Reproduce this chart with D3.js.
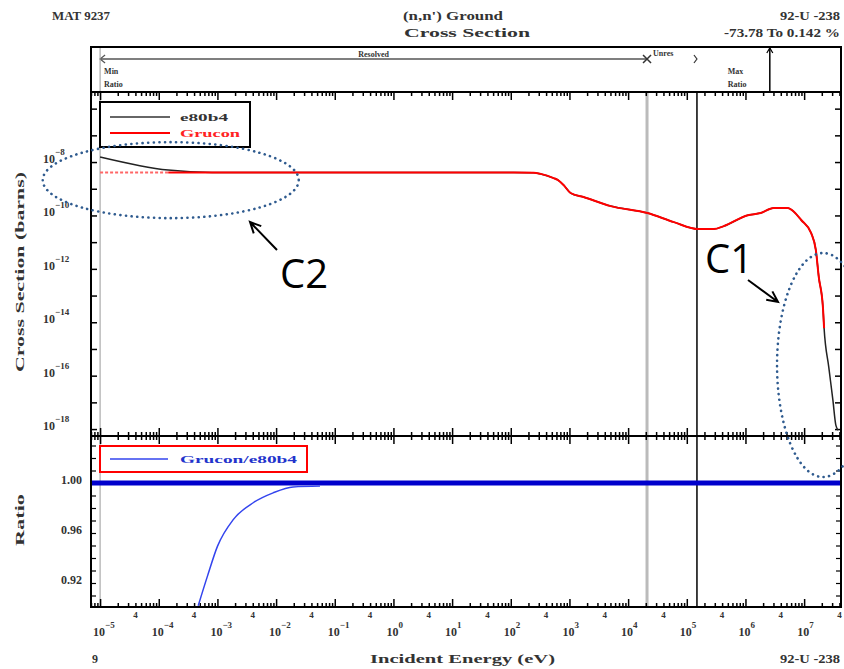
<!DOCTYPE html>
<html>
<head>
<meta charset="utf-8">
<script src="https://cdn.jsdelivr.net/npm/d3@7"></script>
<style>
  body { margin: 0; background: #fff; }
  text { font-family: "Liberation Serif", "DejaVu Serif", serif; font-weight: bold; fill: #333; }
  .note { font-family: "Open Sans", "Liberation Sans", sans-serif; font-weight: normal; fill: #000; }
</style>
</head>
<body>
<script>
// ---- data ----
// Grucon cross section (barns) vs incident energy (eV)
var grEnergy = [1e-5, 1.45e-4, 112, 245, 324, 537, 631, 794, 1047, 1738, 5012, 21380, 60260,
                158500, 288400, 426600, 1.096e6, 1.82e6, 3.02e6, 5.25e6, 6.76e6, 8.91e6,
                1.318e7, 1.585e7, 1.778e7, 2.089e7, 2.188e7];
var grSigma = [4.1e-9, 4.1e-9, 4.1e-9, 4.0e-9, 3.6e-9, 2.51e-9, 2.14e-9, 1.38e-9, 6.92e-10, 4.9e-10,
               2.24e-10, 1.23e-10, 5.62e-11, 3.09e-11, 3.09e-11, 3.98e-11, 1.02e-10, 1.23e-10,
               1.91e-10, 1.91e-10, 1.35e-10, 6.76e-11, 2.19e-11, 5.01e-12, 4.9e-13, 3.72e-14, 6.03e-15];

// e80b4 cross section: differs at low energy and continues to the end of the range
var ebEnergy = [1e-5, 1.45e-4, 8.1e-4, 112, 245, 324, 537, 631, 794, 1047, 1738, 5012, 21380, 60260,
                158500, 288400, 426600, 1.096e6, 1.82e6, 3.02e6, 5.25e6, 6.76e6, 8.91e6,
                1.318e7, 1.585e7, 1.778e7, 2.089e7, 2.188e7, 2.63e7, 3.09e7, 3.47e7, 3.8e7];
var ebSigma = [1.55e-8, 5.0e-9, 4.1e-9, 4.1e-9, 4.0e-9, 3.6e-9, 2.51e-9, 2.14e-9, 1.38e-9, 6.92e-10, 4.9e-10,
               2.24e-10, 1.23e-10, 5.62e-11, 3.09e-11, 3.09e-11, 3.98e-11, 1.02e-10, 1.23e-10,
               1.91e-10, 1.91e-10, 1.35e-10, 6.76e-11, 2.19e-11, 5.01e-12, 4.9e-13, 3.72e-14, 6.03e-15,
               2.09e-16, 1.23e-17, 1.41e-18, 9.12e-19];

// ratio Grucon / e80b4
var ratioEnergy = [4.7e-4, 6.76e-4, 1e-3, 1.86e-3, 4.07e-3, 8.9e-3, 1.95e-2, 5.6e-2];
var ratioValue = [0.9018, 0.9255, 0.9493, 0.9707, 0.9842, 0.9921, 0.9968, 0.9975];
var ratioRef = 1.0;

// tick labels
var xDecades = [-5, -4, -3, -2, -1, 0, 1, 2, 3, 4, 5, 6, 7];
var yDecades = [-8, -10, -12, -14, -16, -18];
var ratioLabels = [1.00, 0.96, 0.92];

// energy markers
var minRatioE = 1e-5, resolvedEnd = 2.1e4, unresolvedEnd = 1.49e5, maxRatioE = 2.6e6;

// ---- layout ----
var left = 91, right = 841, bandTop = 47, mainTop = 92, mainBottom = 436, ratioBottom = 607;

var svg = d3.select("body").append("svg")
    .attr("width", 844)
    .attr("height", 669);

var x = d3.scaleLog().domain([7.0e-6, 4.25e7]).range([left, right]);
var yMain = d3.scaleLog().domain([5.5e-19, 4.2e-6]).range([mainBottom, mainTop]);
var yRatio = d3.scaleLinear().domain([0.9008, 1.0376]).range([ratioBottom, mainBottom]);

// clip paths
var defs = svg.append("defs");
defs.append("clipPath").attr("id", "clipMain").append("rect")
    .attr("x", left).attr("y", mainTop).attr("width", right - left).attr("height", mainBottom - mainTop);
defs.append("clipPath").attr("id", "clipRatio").append("rect")
    .attr("x", left).attr("y", mainBottom).attr("width", right - left).attr("height", ratioBottom - mainBottom);

// header texts
function label(txt, px, py, len, anchor, size) {
    var t = svg.append("text").attr("x", px).attr("y", py)
        .attr("text-anchor", anchor || "start")
        .style("font-size", (size || 12) + "px")
        .text(txt);
    if (len) t.attr("textLength", len).attr("lengthAdjust", "spacingAndGlyphs");
    return t;
}
label("MAT 9237", 52, 20, 58);
label("(n,n') Ground", 403, 20, 100);
label("Cross Section", 404, 37, 126);
label("92-U -238", 840, 20, 60, "end");
label("-73.78 To 0.142 %", 840, 37, 116, "end");
label("9", 92, 663);
label("Incident Energy (eV)", 370, 663, 185);
label("92-U -238", 840, 663, 60, "end");

// axis titles
svg.append("text")
    .attr("transform", "translate(24,272) rotate(-90)")
    .attr("text-anchor", "middle")
    .attr("textLength", 200).attr("lengthAdjust", "spacingAndGlyphs")
    .style("font-size", "12px")
    .text("Cross Section (barns)");
svg.append("text")
    .attr("transform", "translate(24,520) rotate(-90)")
    .attr("text-anchor", "middle")
    .attr("textLength", 52).attr("lengthAdjust", "spacingAndGlyphs")
    .style("font-size", "12px")
    .text("Ratio");

// ---- energy range band ----
var band = svg.append("g");
var yr = 59;
band.append("line")
    .attr("x1", x(minRatioE)).attr("x2", x(resolvedEnd)).attr("y1", yr).attr("y2", yr)
    .style("stroke", "#555").style("stroke-width", 1.5);
band.append("path")
    .attr("d", "M" + (x(minRatioE) + 5) + "," + (yr - 4) + "L" + x(minRatioE) + "," + yr + "L" + (x(minRatioE) + 5) + "," + (yr + 4))
    .style("fill", "none").style("stroke", "#555").style("stroke-width", 1.2);
band.append("path")
    .attr("d", "M" + (x(resolvedEnd) - 4) + "," + (yr - 4) + "L" + (x(resolvedEnd) + 4) + "," + (yr + 4) +
        "M" + (x(resolvedEnd) - 4) + "," + (yr + 4) + "L" + (x(resolvedEnd) + 4) + "," + (yr - 4))
    .style("fill", "none").style("stroke", "#333").style("stroke-width", 1.5);
band.append("text")
    .attr("x", Math.sqrt(x(minRatioE) * 0 + 1) * (x(minRatioE) + x(resolvedEnd)) / 2).attr("y", 57)
    .attr("text-anchor", "middle").style("font-size", "8px").text("Resolved");
band.append("text")
    .attr("x", x(resolvedEnd) + 6).attr("y", 56).style("font-size", "8px").text("Unres");
band.append("path")
    .attr("d", "M" + (x(unresolvedEnd) - 3) + "," + (yr - 4) + "L" + x(unresolvedEnd) + "," + yr + "L" + (x(unresolvedEnd) - 3) + "," + (yr + 4))
    .style("fill", "none").style("stroke", "#333").style("stroke-width", 1.2);
band.append("text").attr("x", x(minRatioE) + 4).attr("y", 74).style("font-size", "8px").text("Min");
band.append("text").attr("x", x(minRatioE) + 4).attr("y", 87).style("font-size", "8px").text("Ratio");
band.append("line")
    .attr("x1", x(maxRatioE)).attr("x2", x(maxRatioE)).attr("y1", bandTop).attr("y2", mainTop)
    .style("stroke", "#000").style("stroke-width", 1.5);
band.append("path")
    .attr("d", "M" + (x(maxRatioE) - 3) + "," + (bandTop + 6) + "L" + x(maxRatioE) + "," + (bandTop + 1) + "L" + (x(maxRatioE) + 3) + "," + (bandTop + 6))
    .style("fill", "none").style("stroke", "#000").style("stroke-width", 1.2);
band.append("text").attr("x", x(maxRatioE) - 42).attr("y", 74).style("font-size", "8px").text("Max");
band.append("text").attr("x", x(maxRatioE) - 42).attr("y", 87).style("font-size", "8px").text("Ratio");

// ---- vertical marker lines ----
svg.append("line")
    .attr("x1", x(minRatioE)).attr("x2", x(minRatioE)).attr("y1", bandTop).attr("y2", ratioBottom)
    .style("stroke", "#999").style("stroke-width", 1);
svg.append("line")
    .attr("x1", x(resolvedEnd)).attr("x2", x(resolvedEnd)).attr("y1", mainTop).attr("y2", ratioBottom)
    .style("stroke", "#bbb").style("stroke-width", 3);
svg.append("line")
    .attr("x1", x(unresolvedEnd)).attr("x2", x(unresolvedEnd)).attr("y1", mainTop).attr("y2", ratioBottom)
    .style("stroke", "#000").style("stroke-width", 1.5);

// ---- ticks ----
var majorX = xDecades.map(function(d) { return Math.pow(10, d); });
var minorX = [];
xDecades.concat([-6]).forEach(function(d) {
    for (var m = 2; m <= 9; m++) {
        var v = m * Math.pow(10, d);
        if (v >= x.domain()[0] && v <= x.domain()[1]) minorX.push(v);
    }
});

function xTicks(axisFn, yPos, size, values) {
    var g = svg.append("g")
        .attr("transform", "translate(0," + yPos + ")")
        .call(axisFn(x).tickValues(values).tickSize(size).tickFormat(""));
    g.select(".domain").remove();
    g.selectAll(".tick line").style("stroke", "#000").style("stroke-width", 1.5);
}
// top of main panel (pointing down), divider (both ways), bottom (pointing up)
xTicks(d3.axisTop, mainTop, -8, majorX);
xTicks(d3.axisTop, mainTop, -4, minorX);
xTicks(d3.axisBottom, mainBottom, -8, majorX);
xTicks(d3.axisBottom, mainBottom, -4, minorX);
xTicks(d3.axisTop, mainBottom, -8, majorX);
xTicks(d3.axisTop, mainBottom, -4, minorX);
xTicks(d3.axisBottom, ratioBottom, -8, majorX);
xTicks(d3.axisBottom, ratioBottom, -4, minorX);

var yTickVals = d3.range(-18, -5).map(function(d) { return Math.pow(10, d); });
[[d3.axisRight, left], [d3.axisLeft, right]].forEach(function(a) {
    var g = svg.append("g").attr("transform", "translate(" + a[1] + ",0)")
        .call(a[0](yMain).tickValues(yTickVals).tickSize(6).tickFormat(""));
    g.select(".domain").remove();
    g.selectAll(".tick line").style("stroke", "#000").style("stroke-width", 1.5);
    var r = svg.append("g").attr("transform", "translate(" + a[1] + ",0)")
        .call(a[0](yRatio).tickValues(d3.range(0.91, 1.035, 0.01)).tickSize(5).tickFormat(""));
    r.select(".domain").remove();
    r.selectAll(".tick line").style("stroke", "#000").style("stroke-width", 1.2);
});

// x tick labels: 10^n and the "4" marks
xDecades.forEach(function(d) {
    var t = svg.append("text").attr("x", x(Math.pow(10, d)) - 7).attr("y", 636)
        .style("font-size", "12px");
    t.append("tspan").text("10");
    t.append("tspan").attr("dy", -8).style("font-size", "9px").text(d < 0 ? "\u2212" + (-d) : d);
    svg.append("text").attr("x", x(4 * Math.pow(10, d))).attr("y", 618)
        .attr("text-anchor", "middle").style("font-size", "9px").text("4");
});

// y tick labels
yDecades.forEach(function(d) {
    var t = svg.append("text").attr("x", 43).attr("y", yMain(Math.pow(10, d)) + 1)
        .style("font-size", "12px");
    t.append("tspan").text("10");
    t.append("tspan").attr("dy", -8).style("font-size", "9px").text("\u2212" + (-d));
});
ratioLabels.forEach(function(v) {
    svg.append("text").attr("x", 82).attr("y", yRatio(v) + 1)
        .attr("text-anchor", "end").style("font-size", "12px").text(v.toFixed(2));
});

// ---- curves ----
var lineMain = d3.line()
    .x(function(d) { return x(d[0]); })
    .y(function(d) { return yMain(d[1]); })
    .curve(d3.curveMonotoneX);

var ebData = ebEnergy.map(function(e, i) { return [e, ebSigma[i]]; });
var grData = grEnergy.map(function(e, i) { return [e, grSigma[i]]; });

var main = svg.append("g").attr("clip-path", "url(#clipMain)");
main.append("path").datum(ebData).attr("d", lineMain)
    .style("fill", "none").style("stroke", "#222").style("stroke-width", 1.5);
main.append("path").datum(grData.slice(0, 2)).attr("d", lineMain)
    .style("fill", "none").style("stroke", "#ff6666").style("stroke-width", 2)
    .style("stroke-dasharray", "3,2");
main.append("path").datum(grData.slice(1)).attr("d", lineMain)
    .style("fill", "none").style("stroke", "#ff0000").style("stroke-width", 2);

var lineRatio = d3.line()
    .x(function(d) { return x(d[0]); })
    .y(function(d) { return yRatio(d[1]); })
    .curve(d3.curveMonotoneX);

var ratioG = svg.append("g").attr("clip-path", "url(#clipRatio)");
ratioG.append("path").datum(x.domain().map(function(e) { return [e, ratioRef]; })).attr("d", lineRatio)
    .style("fill", "none").style("stroke", "#0000cc").style("stroke-width", 5);
ratioG.append("path").datum(ratioEnergy.map(function(e, i) { return [e, ratioValue[i]]; })).attr("d", lineRatio)
    .style("fill", "none").style("stroke", "#3344ee").style("stroke-width", 1.5);

// ---- legends ----
var leg = svg.append("g");
leg.append("rect").attr("x", 100).attr("y", 102).attr("width", 150).attr("height", 45)
    .style("fill", "#fff").style("stroke", "#000").style("stroke-width", 2);
leg.append("line").attr("x1", 110).attr("x2", 170).attr("y1", 117).attr("y2", 117)
    .style("stroke", "#666").style("stroke-width", 2);
leg.append("text").attr("x", 180).attr("y", 121).style("font-size", "11px")
    .attr("textLength", 48).attr("lengthAdjust", "spacingAndGlyphs").text("e80b4");
leg.append("line").attr("x1", 110).attr("x2", 170).attr("y1", 133).attr("y2", 133)
    .style("stroke", "#ff0000").style("stroke-width", 2);
leg.append("text").attr("x", 180).attr("y", 137).style("font-size", "11px").style("fill", "#ff2222")
    .attr("textLength", 60).attr("lengthAdjust", "spacingAndGlyphs").text("Grucon");

var leg2 = svg.append("g");
leg2.append("rect").attr("x", 100).attr("y", 446).attr("width", 207).attr("height", 26)
    .style("fill", "#fff").style("stroke", "#ff0000").style("stroke-width", 2);
leg2.append("line").attr("x1", 110).attr("x2", 168).attr("y1", 459).attr("y2", 459)
    .style("stroke", "#3344ee").style("stroke-width", 1.5);
leg2.append("text").attr("x", 180).attr("y", 463).style("font-size", "11px").style("fill", "#2233cc")
    .attr("textLength", 117).attr("lengthAdjust", "spacingAndGlyphs").text("Grucon/e80b4");

// ---- frame ----
svg.append("rect").attr("x", left).attr("y", bandTop).attr("width", right - left).attr("height", ratioBottom - bandTop)
    .style("fill", "none").style("stroke", "#000").style("stroke-width", 2);
[mainTop, mainBottom].forEach(function(yy) {
    svg.append("line").attr("x1", left).attr("x2", right).attr("y1", yy).attr("y2", yy)
        .style("stroke", "#000").style("stroke-width", 2);
});

// ---- annotations (C1, C2) ----
var noteColor = "#2f5b8f";
var notes = [
    {name: "C2", E: 1.6e-4, sigma: 2.1e-9, rx: 128, ry: 38, tx: 280, ty: 288, a: [277, 250, 250, 222]},
    {name: "C1", E: 2.1e7, sigma: 2.5e-16, rx: 46, ry: 112, tx: 705, ty: 273, a: [748, 280, 778, 302]}
];
notes.forEach(function(n) {
    svg.append("ellipse")
        .attr("cx", x(n.E)).attr("cy", yMain(n.sigma)).attr("rx", n.rx).attr("ry", n.ry)
        .style("fill", "none").style("stroke", noteColor).style("stroke-width", 2.6)
        .style("stroke-linecap", "round").style("stroke-dasharray", "0.1,5.5");
    svg.append("text").attr("class", "note").attr("x", n.tx).attr("y", n.ty)
        .style("font-size", "40px").text(n.name);
    var ang = Math.atan2(n.a[3] - n.a[1], n.a[2] - n.a[0]);
    var hx = n.a[2], hy = n.a[3], hl = 12;
    svg.append("path")
        .attr("d", "M" + n.a[0] + "," + n.a[1] + "L" + hx + "," + hy +
            "M" + (hx - hl * Math.cos(ang - 0.45)) + "," + (hy - hl * Math.sin(ang - 0.45)) +
            "L" + hx + "," + hy +
            "L" + (hx - hl * Math.cos(ang + 0.45)) + "," + (hy - hl * Math.sin(ang + 0.45)))
        .style("fill", "none").style("stroke", "#000").style("stroke-width", 2);
});
</script>
</body>
</html>
